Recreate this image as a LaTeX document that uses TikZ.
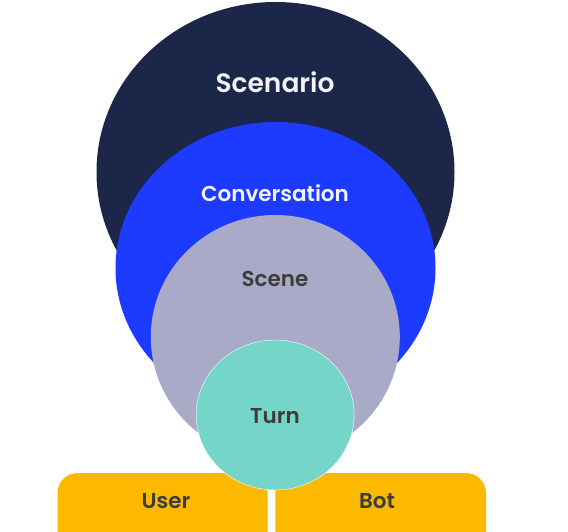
\documentclass[tikz,border=0pt]{standalone}
\usepackage{fontspec}
\setmainfont{Poppins}[BoldFont={Poppins SemiBold}]
\usetikzlibrary{shapes.geometric}
\definecolor{navy}{HTML}{1B2649}
\definecolor{convblue}{HTML}{1C3BFF}
\definecolor{lavender}{HTML}{A9AAC8}
\definecolor{teal}{HTML}{76D5C9}
\definecolor{amber}{HTML}{FDB800}
\definecolor{darktext}{HTML}{3C3C3C}
\definecolor{lighttext}{HTML}{F2F2F7}
\tikzset{
  blob/.style={ellipse, inner sep=0pt, draw=none},
  lbl/.style={font=\bfseries\fontsize{21.5}{25}\selectfont, text=darktext, inner sep=0pt},
  lightlbl/.style={lbl, text=lighttext},
}
\begin{document}
\begin{tikzpicture}[x=1pt,y=-1pt]
\useasboundingbox (0,0) rectangle (568,532);
\node[blob, fill=navy, minimum width=358pt, minimum height=340pt] (scenario) at (275.5,172) {};
\node[blob, fill=convblue, minimum width=320pt, minimum height=292pt] (conversation) at (275.5,268) {};
\node[blob, fill=lavender, minimum width=249pt, minimum height=244pt] (scene) at (275.3,337) {};
\fill[amber] (57.5,532) [rounded corners=20pt] -- (57.5,473) -- (267.7,473) [sharp corners] -- (267.7,532) -- cycle;
\fill[amber] (275.3,532) [rounded corners=20pt] -- (275.3,473) -- (486,473) [sharp corners] -- (486,532) -- cycle;
\node[blob, fill=teal, draw=white, line width=0.4pt, minimum width=158pt, minimum height=150pt] (turn) at (275.2,415) {};
\node[lightlbl, font=\bfseries\fontsize{26.5}{30}\selectfont] (tscenario) at (275,82) {Scenario};
\node[lightlbl] (tconv) at (275,193.5) {Conversation};
\node[lbl] (tscene) at (275,279) {Scene};
\node[lbl] (tturn) at (275,416) {Turn};
\node[lbl] (tuser) at (166,501) {User};
\node[lbl] (tbot) at (377,501) {Bot};
\end{tikzpicture}
\end{document}
